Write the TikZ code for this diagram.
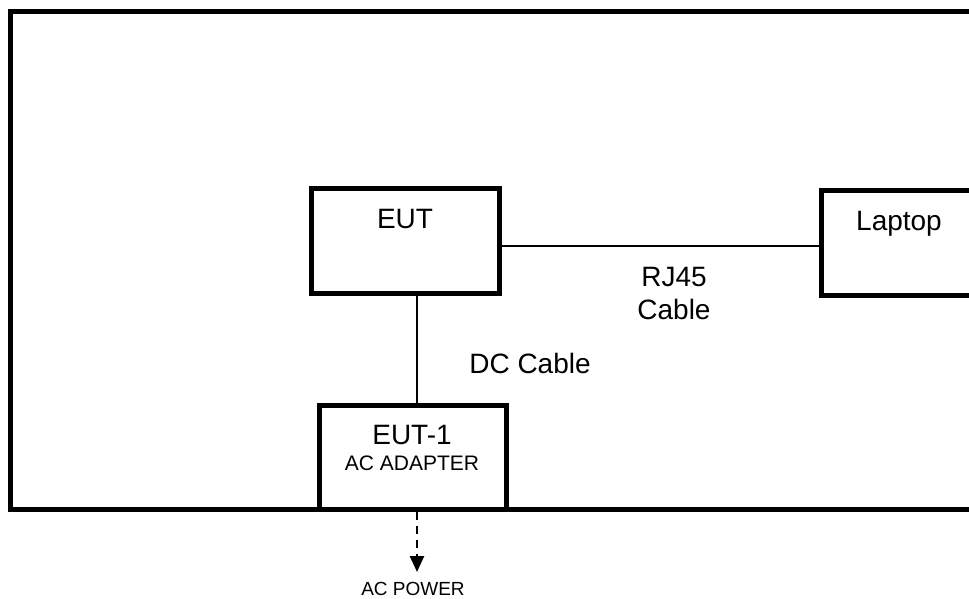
\documentclass[tikz,border=0pt]{standalone}
\usepackage{fontspec}
\setmainfont{Liberation Sans}
\usetikzlibrary{arrows.meta}

\begin{document}
\begin{tikzpicture}[
    x=1pt, y=-1pt,
    unit/.style={rectangle, draw, line width=5pt, minimum width=188pt, minimum height=105pt, inner sep=0pt},
    cable/.style={line width=1.4pt},
    supply/.style={-{Triangle[width=14pt, length=16pt]}, line width=2.5pt, dash pattern=on 8pt off 6pt},
    txt/.style={font=\fontsize{28}{33}\selectfont, anchor=base, inner sep=0pt, align=center},
    subtxt/.style={font=\fontsize{21}{25}\selectfont, anchor=base, inner sep=0pt},
    powtxt/.style={font=\fontsize{19}{23}\selectfont, anchor=base, inner sep=0pt}
]
\clip (0,0) rectangle (969,598);

% Test table frame
\draw[line width=5pt] (10.5,11.5) rectangle (1000,509);

% Units
\node[unit] (eut) at (405,241) {};
\node[unit] (laptop) at (915,243) {};
\node[unit, minimum width=187pt, minimum height=104pt] (adapter) at (413,457) {};

\node[txt] (euttext) at (405,228) {EUT};
\node[txt] (laptoptext) at (899,230) {Laptop};
\node[txt] (adaptertext) at (412,444) {EUT-1};
\node[subtxt] (adaptersub) at (412,470) {AC ADAPTER};

% Cables
\draw[cable] ([yshift=-5pt]eut.east) -- ([yshift=-3pt]laptop.west);
\node[txt] (rjtext) at (674,319) {RJ45\\Cable};

\draw[cable] ([xshift=12pt]eut.south) -- ([xshift=4pt]adapter.north);
\node[txt] (dctext) at (530,373) {DC Cable};

% Mains
\coordinate (acin) at (417,572);
\draw[supply] ([xshift=4pt]adapter.south) -- (acin);
\node[powtxt] (powertext) at (413,595) {AC POWER};

\end{tikzpicture}
\end{document}
